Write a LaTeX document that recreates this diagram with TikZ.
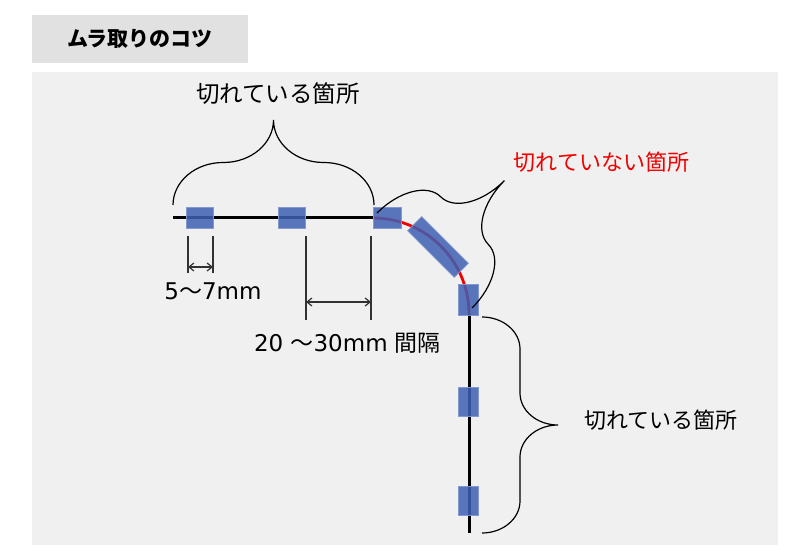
\documentclass[tikz,border=0pt]{standalone}
\usepackage{fontspec}
\setmainfont{Noto Sans CJK JP}
\newfontfamily\numfont{DejaVu Sans}
\usetikzlibrary{arrows.meta,positioning}
\definecolor{tapeblue}{RGB}{62,96,180}
\definecolor{panelgray}{RGB}{240,240,240}
\definecolor{headgray}{RGB}{225,225,225}
\definecolor{cutred}{RGB}{240,0,0}
\definecolor{dimgray}{RGB}{50,50,50}
\tikzset{
  panel/.style={rectangle, fill=panelgray, inner sep=0pt},
  headbox/.style={rectangle, fill=headgray, inner sep=0pt, minimum width=216pt,
                  minimum height=48pt, font=\bfseries\fontsize{21}{24}\selectfont},
  tape/.style={rectangle, fill=tapeblue, fill opacity=0.85, draw=tapeblue!65!white,
               line width=0.8pt, inner sep=0pt},
  tapeH/.style={tape, minimum width=27pt, minimum height=21pt},
  tapeV/.style={tape, minimum width=20pt, minimum height=29pt},
  wire/.style={line width=3pt, black},
  wirecut/.style={line width=2.8pt, cutred},
  dimline/.style={line width=1.2pt, dimgray},
  dimarrow/.style={dimline, {Straight Barb[length=5pt,width=8pt]}-{Straight Barb[length=5pt,width=8pt]}},
  bracel/.style={line width=1.2pt, black},
  lbl/.style={inner sep=0pt, font=\fontsize{22}{26}\selectfont},
  pics/ppbrace/.style n args={3}{code={
    \draw[bracel] (0,0) arc[start angle=180, end angle=90, x radius=#3, y radius=#2/2]
      -- ++({#1/2-2*#3},0)
      arc[start angle=-90, end angle=0, x radius=#3, y radius=#2/2]
      arc[start angle=180, end angle=270, x radius=#3, y radius=#2/2]
      -- ++({#1/2-2*#3},0)
      arc[start angle=90, end angle=0, x radius=#3, y radius=#2/2];
  }},
}
\begin{document}
\begin{tikzpicture}[x=1pt, y=1pt]
  \useasboundingbox (0,0) rectangle (811,555);
  \node[headbox] (head) at (140,516) {ムラ取りのコツ};
  \node[panel, minimum width=746pt, minimum height=473pt] (panel) at (405,246.5) {};

  % tape line
  \coordinate (hs) at (173,337);
  \coordinate (ha) at (373,337);
  \coordinate (vb) at (469,241);
  \coordinate (ve) at (469,22);
  \draw[wire] (hs) -- (ha);
  \draw[wirecut] (ha) arc[start angle=90, end angle=0, radius=96];
  \draw[wire] (vb) -- (ve);

  \node[tapeH] (t1) at (200,337.5) {};
  \node[tapeH] (t2) at (291.5,337.5) {};
  \node[tapeH, minimum width=28pt] (t3) at (387,337.5) {};
  \node[tape, minimum width=66pt, minimum height=20pt, rotate=-45] (t4) at (438,308) {};
  \node[tapeV, minimum height=31pt] (t5) at (468,255) {};
  \node[tapeV] (t6) at (468,153) {};
  \node[tapeV] (t7) at (468,54.5) {};

  % 5~7mm
  \coordinate (w1t) at (188,319);  \coordinate (w1b) at (188,282);
  \coordinate (w2t) at (213,319);  \coordinate (w2b) at (213,282);
  \draw[dimline] (w1t) -- (w1b);
  \draw[dimline] (w2t) -- (w2b);
  \draw[dimarrow] ([yshift=6pt]w1b) -- ([yshift=6pt]w2b);
  \node[lbl, font=\fontsize{23}{26}\selectfont] (width) at (213,263.5) {{\numfont 5}〜{\numfont 7mm}};

  % 20~30mm
  \coordinate (g1t) at (306,319);  \coordinate (g1b) at (306,235);
  \coordinate (g2t) at (371,319);  \coordinate (g2b) at (371,235);
  \draw[dimline] (g1t) -- (g1b);
  \draw[dimline] (g2t) -- (g2b);
  \draw[dimarrow] ([yshift=18pt]g1b) -- ([yshift=18pt]g2b);
  \node[lbl, font=\fontsize{23}{26}\selectfont] (gap) at (347.5,211.5) {{\numfont 20 }〜{\numfont 30mm }間隔};

  % braces
  \coordinate (bt) at (173,350);
  \pic at (bt) {ppbrace={201}{85}{50}};
  \node[lbl, font=\fontsize{23.5}{26}\selectfont] (cutA) at (278,461) {切れている箇所};
  \coordinate (bn) at (377,342);
  \pic[rotate=-45] at (bn) {ppbrace={134.4}{113}{33.6}};
  \node[lbl, cutred] (keep) at (601.5,392.5) {切れていない箇所};
  \coordinate (br) at (482,238);
  \pic[rotate=-90] at (br) {ppbrace={216}{76}{32}};
  \node[lbl] (cutB) at (661,135) {切れている箇所};
\end{tikzpicture}
\end{document}
